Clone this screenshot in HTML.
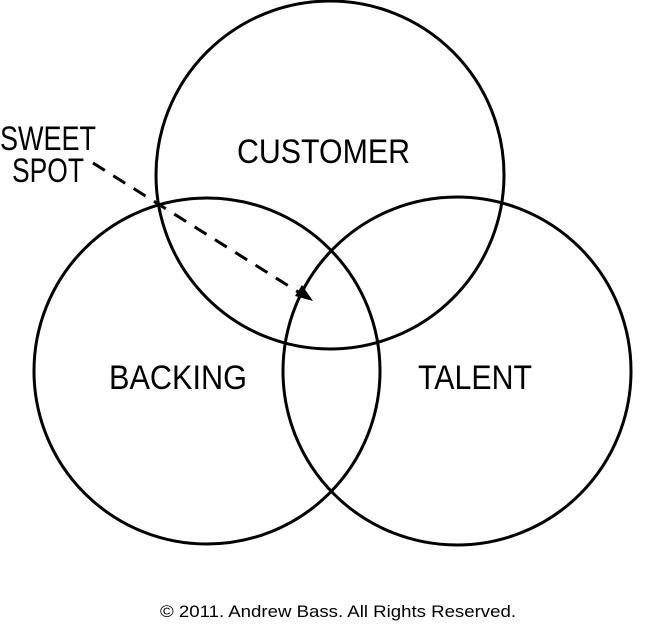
<!DOCTYPE html>
<html><head><style>html,body{margin:0;padding:0;background:#fff;}svg{display:block}</style></head>
<body>
<svg width="649" height="632" viewBox="0 0 649 632" xmlns="http://www.w3.org/2000/svg">
<defs><marker id="a" markerWidth="10" markerHeight="10" refX="9" refY="5" orient="auto" markerUnits="userSpaceOnUse"><path d="M0,0 L10,5 L0,10 z" fill="#000"/></marker></defs>
<g fill="none" stroke="#000" stroke-width="3">
<circle cx="330" cy="175" r="174"/>
<circle cx="207" cy="371" r="173"/>
<circle cx="457" cy="371" r="174"/>
<line x1="93" y1="163" x2="311" y2="300" stroke-dasharray="14,10"/>
</g>
<path d="M313,301 L295,296 L302,285 z" fill="#000"/>
<g font-family="Liberation Sans, sans-serif" font-size="34" fill="#000">
<text x="0" y="150" textLength="96" lengthAdjust="spacingAndGlyphs">SWEET</text>
<text x="12" y="182" textLength="72" lengthAdjust="spacingAndGlyphs">SPOT</text>
<text x="237" y="163" textLength="173" lengthAdjust="spacingAndGlyphs">CUSTOMER</text>
<text x="109" y="389" textLength="138" lengthAdjust="spacingAndGlyphs">BACKING</text>
<text x="418" y="389" textLength="114" lengthAdjust="spacingAndGlyphs">TALENT</text>
</g>
<text x="160" y="617" font-family="Liberation Sans, sans-serif" font-size="17" textLength="356" lengthAdjust="spacingAndGlyphs">© 2011. Andrew Bass. All Rights Reserved.</text>
</svg>
</body></html>
